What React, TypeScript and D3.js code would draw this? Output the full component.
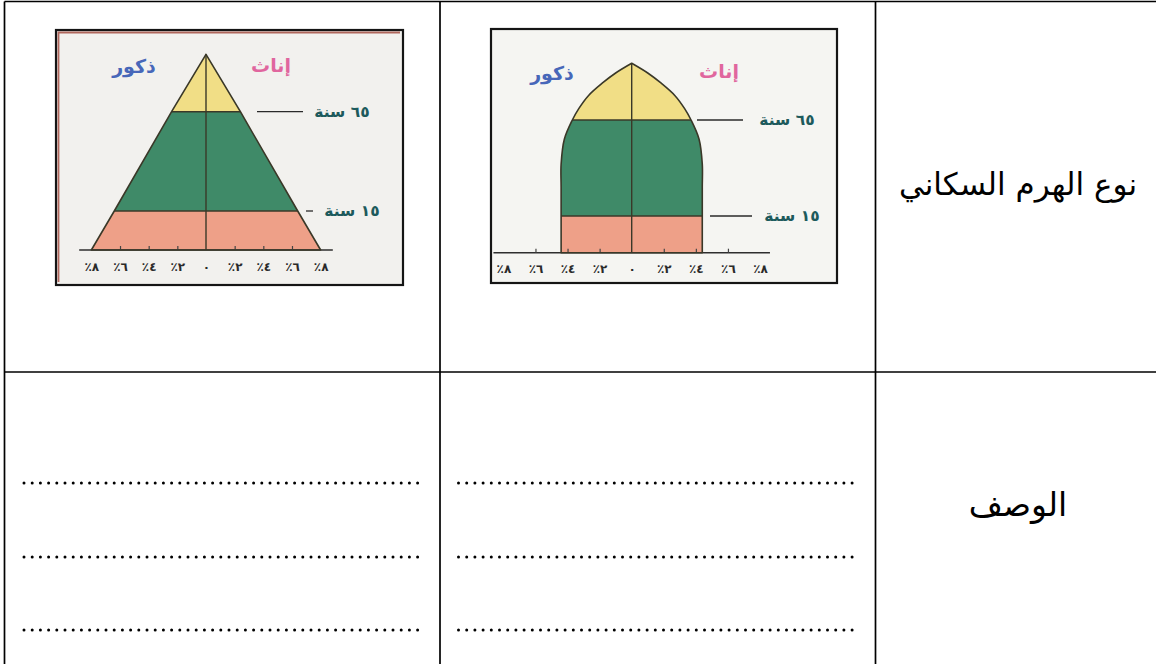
import React, { useEffect, useRef } from "react";
import * as d3 from "d3";

// age band limits (years), bottom to top, and the fill of each band
const ageBreaks = [0, 15, 65, 100];
const bandColors = ["#eea088", "#3f8a68", "#f1de86"];

// percent axis, same on both pyramids
const tickValues = [-8, -6, -4, -2, 0, 2, 4, 6, 8];
const tickLabels = ["٨٪", "٦٪", "٤٪", "٢٪", "٠", "٢٪", "٤٪", "٦٪", "٨٪"];

// young (expansive) pyramid: share of each sex in % at each age
const youngAges = [0, 15, 65, 100];
const youngShare = [8, 6.4, 2.4, 0];

// stationary pyramid
const stableAges = [0, 15, 30, 42, 55, 65, 72, 80, 88, 94, 100];
const stableShare = [4.4, 4.4, 4.4, 4.4, 4.2, 3.7, 3.3, 2.7, 1.8, 1.0, 0];

const sexLabels = ["ذكور", "إناث"];
const sexColors = ["#4767b9", "#e0669e"];
const ageLabels = ["١٥ سنة", "٦٥ سنة"];
const ageLabelAges = [15, 65];

const rowTitles = ["نوع الهرم السكاني", "الوصف"];

const AR = "'DejaVu Sans', sans-serif";

// table frame
const colEdges = [4.5, 440, 875.5, 1160.5];
const rowEdges = [1.5, 372, 672];
const dotRows = [483, 557, 630];
const dotCols = [
  [24, 423],
  [458.5, 860],
];

const charts = [
  {
    ages: youngAges,
    share: youngShare,
    curve: d3.curveLinear,
    box: { x: 56, y: 30, w: 347, h: 255 },
    cx: 206,
    unit: 14.33,
    ageY: [250, 211, 111.7, 54.3],
    axisExt: 8.85,
    tinted: true,
    sexPos: [
      [134, 73],
      [271, 72],
    ],
    notes: [
      { x0: 306, x1: 313, tx: 352 },
      { x0: 257, x1: 303, tx: 342 },
    ],
  },
  {
    ages: stableAges,
    share: stableShare,
    curve: d3.curveCatmullRom.alpha(0.5),
    box: { x: 491, y: 29, w: 346, h: 254 },
    cx: 631.7,
    unit: 16.04,
    ageY: [252.7, 216, 120, 63.3],
    axisExt: 8.62,
    tinted: false,
    sexPos: [
      [552, 80],
      [719, 78],
    ],
    notes: [
      { x0: 710, x1: 752, tx: 792 },
      { x0: 697, x1: 743, tx: 787 },
    ],
  },
];

function drawTable(svg) {
  const g = svg.append("g");
  const line = (x1, y1, x2, y2) =>
    g.append("line")
      .attr("x1", x1).attr("y1", y1).attr("x2", x2).attr("y2", y2)
      .attr("stroke", "#000").attr("stroke-width", 1.7);
  colEdges.forEach((x) => line(x, rowEdges[0], x, rowEdges[2]));
  rowEdges.forEach((y) => line(colEdges[0], y, colEdges[3], y));

  const titleX = (colEdges[2] + colEdges[3]) / 2;
  g.append("text")
    .attr("x", titleX).attr("y", 195)
    .attr("text-anchor", "middle").attr("direction", "rtl")
    .style("font-family", AR).style("font-size", "31px")
    .text(rowTitles[0]);
  g.append("text")
    .attr("x", titleX).attr("y", 516)
    .attr("text-anchor", "middle").attr("direction", "rtl")
    .style("font-family", AR).style("font-size", "33px")
    .text(rowTitles[1]);

  dotCols.forEach(([a, b]) => {
    dotRows.forEach((y) => {
      g.append("line")
        .attr("x1", a).attr("x2", b).attr("y1", y).attr("y2", y)
        .attr("stroke", "#000").attr("stroke-width", 3)
        .attr("stroke-linecap", "round").attr("stroke-dasharray", "0 8.2");
    });
  });
}

function drawPyramid(g, c, idx) {
  const x = d3.scaleLinear().domain([-8, 8]).range([c.cx - 8 * c.unit, c.cx + 8 * c.unit]);
  const y = d3.scaleLinear().domain(ageBreaks).range(c.ageY);
  const { box } = c;

  g.append("rect")
    .attr("x", box.x).attr("y", box.y).attr("width", box.w).attr("height", box.h)
    .attr("fill", c.tinted ? "#f2f1ee" : "#f5f5f2");
  if (c.tinted) {
    g.append("path")
      .attr("d", `M${box.x + 2.5},${box.y + box.h - 3}V${box.y + 2.5}H${box.x + box.w - 3}`)
      .attr("fill", "none").attr("stroke", "#b0675c").attr("stroke-width", 1.8);
  }
  g.append("rect")
    .attr("x", box.x).attr("y", box.y).attr("width", box.w).attr("height", box.h)
    .attr("fill", "none").attr("stroke", "#151515").attr("stroke-width", 2.2);

  const pts = c.ages.map((a, i) => ({ a, s: c.share[i] }));
  const area = d3.area()
    .y((d) => y(d.a))
    .x0((d) => x(-d.s))
    .x1((d) => x(d.s))
    .curve(c.curve);
  const shape = area(pts);

  const clipId = `pyr-clip-${idx}`;
  g.append("clipPath").attr("id", clipId).append("path").attr("d", shape);

  const bands = g.append("g").attr("clip-path", `url(#${clipId})`);
  bandColors.forEach((col, i) => {
    bands.append("rect")
      .attr("x", x(-10)).attr("width", x(10) - x(-10))
      .attr("y", y(ageBreaks[i + 1])).attr("height", y(ageBreaks[i]) - y(ageBreaks[i + 1]))
      .attr("fill", col);
  });
  ageBreaks.slice(1, -1).forEach((a) => {
    bands.append("line")
      .attr("x1", x(-10)).attr("x2", x(10)).attr("y1", y(a)).attr("y2", y(a))
      .attr("stroke", "#3a3828").attr("stroke-width", 1.5);
  });

  // axis
  g.append("line")
    .attr("x1", x(-c.axisExt)).attr("x2", x(c.axisExt))
    .attr("y1", y(0)).attr("y2", y(0))
    .attr("stroke", "#2e2e2e").attr("stroke-width", 1.5);
  const axis = d3.axisBottom(x)
    .tickValues(tickValues)
    .tickFormat((d, i) => tickLabels[i])
    .tickSizeInner(-4)
    .tickSizeOuter(0);
  const ax = g.append("g").attr("transform", `translate(0,${y(0)})`).call(axis);
  ax.select(".domain").remove();
  ax.selectAll(".tick line")
    .attr("stroke", "#444").attr("stroke-width", 1.2)
    .filter((d) => d === 0 || Math.abs(d) === 8).remove();
  ax.selectAll(".tick text")
    .attr("y", 20.5).attr("dy", null)
    .attr("direction", "rtl")
    .attr("fill", "#2a2a2a")
    .style("font-family", AR).style("font-size", "12px").style("font-weight", "bold");
  ax.attr("font-family", null).attr("font-size", null);

  // outline and centre line
  g.append("path").attr("d", shape)
    .attr("fill", "none").attr("stroke", "#3a3828").attr("stroke-width", 1.6)
    .attr("stroke-linejoin", "round");
  g.append("line")
    .attr("x1", x(0)).attr("x2", x(0)).attr("y1", y(100)).attr("y2", y(0))
    .attr("stroke", "#3a3828").attr("stroke-width", 1.4);

  // sex labels
  sexLabels.forEach((t, i) => {
    g.append("text")
      .attr("x", c.sexPos[i][0]).attr("y", c.sexPos[i][1])
      .attr("text-anchor", "middle").attr("direction", "rtl")
      .attr("fill", sexColors[i])
      .style("font-family", AR).style("font-size", "19px").style("font-weight", "bold")
      .text(t);
  });

  // age notes
  ageLabelAges.forEach((a, i) => {
    const n = c.notes[i];
    g.append("line")
      .attr("x1", n.x0).attr("x2", n.x1).attr("y1", y(a)).attr("y2", y(a))
      .attr("stroke", "#2a2a2a").attr("stroke-width", 1.3);
    g.append("text")
      .attr("x", n.tx).attr("y", y(a) + 5)
      .attr("text-anchor", "middle").attr("direction", "rtl")
      .attr("fill", "#1d5a5c")
      .style("font-family", AR).style("font-size", "15.5px").style("font-weight", "bold")
      .text(ageLabels[i]);
  });
}

export default function App() {
  const ref = useRef(null);
  useEffect(() => {
    const svg = d3.select(ref.current);
    svg.selectAll("*").remove();
    drawTable(svg);
    charts.forEach((c, i) => drawPyramid(svg.append("g"), c, i));
  }, []);
  return (
    <svg
      ref={ref}
      width={1156}
      height={664}
      style={{ position: "absolute", left: 0, top: 0, background: "#fff" }}
    />
  );
}
